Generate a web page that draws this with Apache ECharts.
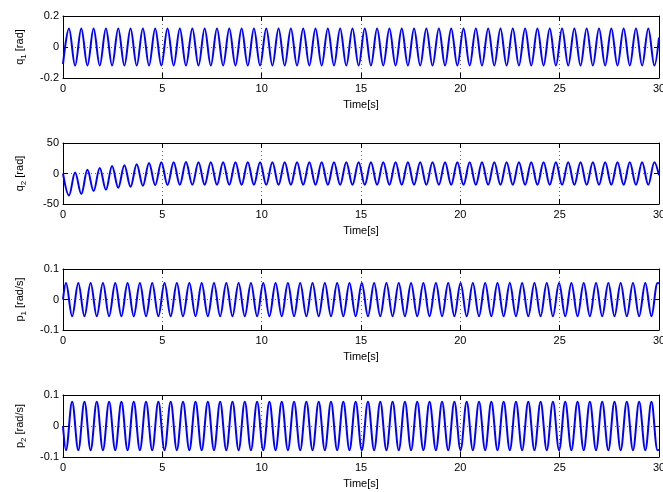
<!DOCTYPE html>
<html><head><meta charset="utf-8">
<script src="https://cdn.jsdelivr.net/npm/echarts@6/dist/echarts.min.js"></script>
<style>html,body{margin:0;padding:0;background:#fff}#c{width:663px;height:492px}</style>
</head><body><div id="c"></div>
<script>
// x tick labels (seconds)
const xTicks = [0, 5, 10, 15, 20, 25, 30];

// times of extrema read from the q-panels (plus start / end)
const qTime = [0,
  0.30, 0.61, 0.92, 1.23, 1.54, 1.85, 2.16, 2.47, 2.78, 3.09,
  3.40, 3.71, 4.02, 4.33, 4.64, 4.95, 5.26, 5.57, 5.88, 6.19,
  6.51, 6.82, 7.13, 7.44, 7.75, 8.06, 8.37, 8.68, 8.99, 9.30,
  9.61, 9.92, 10.23, 10.54, 10.85, 11.16, 11.47, 11.78, 12.09, 12.40,
  12.71, 13.02, 13.33, 13.64, 13.95, 14.26, 14.57, 14.88, 15.19, 15.50,
  15.81, 16.12, 16.43, 16.74, 17.05, 17.36, 17.67, 17.98, 18.29, 18.60,
  18.92, 19.23, 19.54, 19.85, 20.16, 20.47, 20.78, 21.09, 21.40, 21.71,
  22.02, 22.33, 22.64, 22.95, 23.26, 23.57, 23.88, 24.19, 24.50, 24.81,
  25.12, 25.43, 25.74, 26.05, 26.36, 26.67, 26.98, 27.29, 27.60, 27.91,
  28.22, 28.53, 28.84, 29.15, 29.46, 29.77,
  30];

// q1 [rad] values at qTime
const q1Val = [-0.11,
  0.12,-0.12,0.12,-0.12,0.12,-0.12,0.12,-0.12,0.12,-0.12,0.12,-0.12,
  0.12,-0.12,0.12,-0.12,0.12,-0.12,0.12,-0.12,0.12,-0.12,0.12,-0.12,
  0.12,-0.12,0.12,-0.12,0.12,-0.12,0.12,-0.12,0.12,-0.12,0.12,-0.12,
  0.12,-0.12,0.12,-0.12,0.12,-0.12,0.12,-0.12,0.12,-0.12,0.12,-0.12,
  0.12,-0.12,0.12,-0.12,0.12,-0.12,0.12,-0.12,0.12,-0.12,0.12,-0.12,
  0.12,-0.12,0.12,-0.12,0.12,-0.12,0.12,-0.12,0.12,-0.12,0.12,-0.12,
  0.12,-0.12,0.12,-0.12,0.12,-0.12,0.12,-0.12,0.12,-0.12,0.12,-0.12,
  0.12,-0.12,0.12,-0.12,0.12,-0.12,0.12,-0.12,0.12,-0.12,0.12,-0.12,
  0.06];

// q2 [rad] values at qTime
const q2Val = [0,
  -36, 1.6, -33.7, 6, -28.8, 9.2, -26.7, 12.5, -23.4, 13.6, -21.8, 15.2, -20.1, 17.4, -19.1, 18.5,
  -18.8, 18.6, -18.6, 18.7, -18.5, 18.5, -18.5, 18.5, -18.5, 18.5,
  -18.5, 18.5, -18.5, 18.5, -18.5, 18.5, -18.5, 18.5, -18.5, 18.5,
  -18.5, 18.5, -18.5, 18.5, -18.5, 18.5, -18.5, 18.5, -18.5, 18.5,
  -18.5, 18.5, -18.5, 18.5, -18.5, 18.5, -18.5, 18.5, -18.5, 18.5,
  -18.5, 18.5, -18.5, 18.5, -18.5, 18.5, -18.5, 18.5, -18.5, 18.5,
  -18.5, 18.5, -18.5, 18.5, -18.5, 18.5, -18.5, 18.5, -18.5, 18.5,
  -18.5, 18.5, -18.5, 18.5, -18.5, 18.5, -18.5, 18.5, -18.5, 18.5,
  -18.5, 18.5, -18.5, 18.5, -18.5, 18.5, -18.5, 18.5, -18.5, 18.5,
  -3];

// times of extrema read from the p-panels (plus start / end)
const pTime = [0,
  0.15, 0.46, 0.77, 1.08, 1.39, 1.70, 2.01, 2.32, 2.63, 2.94,
  3.25, 3.56, 3.87, 4.18, 4.49, 4.80, 5.11, 5.42, 5.73, 6.04,
  6.36, 6.67, 6.98, 7.29, 7.60, 7.91, 8.22, 8.53, 8.84, 9.15,
  9.46, 9.77, 10.08, 10.39, 10.70, 11.01, 11.32, 11.63, 11.94, 12.25,
  12.56, 12.87, 13.18, 13.49, 13.80, 14.11, 14.42, 14.73, 15.04, 15.35,
  15.66, 15.97, 16.28, 16.59, 16.90, 17.21, 17.52, 17.83, 18.14, 18.45,
  18.77, 19.08, 19.39, 19.70, 20.01, 20.32, 20.63, 20.94, 21.25, 21.56,
  21.87, 22.18, 22.49, 22.80, 23.11, 23.42, 23.73, 24.04, 24.35, 24.66,
  24.97, 25.28, 25.59, 25.90, 26.21, 26.52, 26.83, 27.14, 27.45, 27.76,
  28.07, 28.38, 28.69, 29.00, 29.31, 29.62, 29.93,
  30];

// p1 [rad/s] values at pTime
const p1Val = [0,
  0.054,-0.055,0.054,-0.055,0.054,-0.055,0.054,-0.055,0.054,-0.055,0.054,-0.055,
  0.054,-0.055,0.054,-0.055,0.054,-0.055,0.054,-0.055,0.054,-0.055,0.054,-0.055,
  0.054,-0.055,0.054,-0.055,0.054,-0.055,0.054,-0.055,0.054,-0.055,0.054,-0.055,
  0.054,-0.055,0.054,-0.055,0.054,-0.055,0.054,-0.055,0.054,-0.055,0.054,-0.055,
  0.054,-0.055,0.054,-0.055,0.054,-0.055,0.054,-0.055,0.054,-0.055,0.054,-0.055,
  0.054,-0.055,0.054,-0.055,0.054,-0.055,0.054,-0.055,0.054,-0.055,0.054,-0.055,
  0.054,-0.055,0.054,-0.055,0.054,-0.055,0.054,-0.055,0.054,-0.055,0.054,-0.055,
  0.054,-0.055,0.054,-0.055,0.054,-0.055,0.054,-0.055,0.054,-0.055,0.054,-0.055,
  0.054,
  0.053];

// p2 [rad/s] values at pTime
const p2Val = [0,
  -0.078,0.078,-0.078,0.078,-0.078,0.078,-0.078,0.078,-0.078,0.078,-0.078,0.078,
  -0.078,0.078,-0.078,0.078,-0.078,0.078,-0.078,0.078,-0.078,0.078,-0.078,0.078,
  -0.078,0.078,-0.078,0.078,-0.078,0.078,-0.078,0.078,-0.078,0.078,-0.078,0.078,
  -0.078,0.078,-0.078,0.078,-0.078,0.078,-0.078,0.078,-0.078,0.078,-0.078,0.078,
  -0.078,0.078,-0.078,0.078,-0.078,0.078,-0.078,0.078,-0.078,0.078,-0.078,0.078,
  -0.078,0.078,-0.078,0.078,-0.078,0.078,-0.078,0.078,-0.078,0.078,-0.078,0.078,
  -0.078,0.078,-0.078,0.078,-0.078,0.078,-0.078,0.078,-0.078,0.078,-0.078,0.078,
  -0.078,0.078,-0.078,0.078,-0.078,0.078,-0.078,0.078,-0.078,0.078,-0.078,0.078,
  -0.078,
  -0.077];

// y tick limits per panel
const yMin = [-0.2, -50, -0.1, -0.1];
const yMax = [0.2, 50, 0.1, 0.1];
const yStep = [0.2, 50, 0.1, 0.1];
const yLetter = ['q', 'q', 'p', 'p'];
const ySub = ['1', '2', '1', '2'];
const yUnit = [' [rad]', ' [rad]', ' [rad/s]', ' [rad/s]'];
const xName = 'Time[s]';

const panels = [
  {time: qTime, vals: q1Val},
  {time: qTime, vals: q2Val},
  {time: pTime, vals: p1Val},
  {time: pTime, vals: p2Val}
];

const FONT = '"Liberation Sans", Arial, Helvetica, sans-serif';
const tops = [16, 143, 269, 395];
const heights = [62, 61, 61, 62];
const grid = [], xAxis = [], yAxis = [], series = [];
const lineSt = {color: '#000', width: 1};
const gridSt = {type: [1, 3], color: '#666', width: 1};

panels.forEach((p, i) => {
  grid.push({left: 63, width: 596, top: tops[i], height: heights[i], containLabel: false, outerBoundsMode: 'none'});
  const xc = {type: 'value', gridIndex: i, min: xTicks[0], max: xTicks[xTicks.length - 1], interval: xTicks[1] - xTicks[0]};
  xAxis.push(Object.assign({}, xc, {
    position: 'bottom',
    axisLine: {onZero: false, lineStyle: lineSt},
    axisTick: {inside: true, length: 5, lineStyle: lineSt},
    axisLabel: {margin: 5, color: '#000', fontSize: 11, fontFamily: FONT, hideOverlap: false},
    splitLine: {show: true, lineStyle: gridSt},
    name: xName, nameLocation: 'middle', nameGap: 21,
    nameTextStyle: {color: '#000', fontSize: 11, fontFamily: FONT}
  }));
  xAxis.push(Object.assign({}, xc, {
    position: 'top',
    axisLine: {onZero: false, lineStyle: lineSt},
    axisTick: {inside: true, length: 5, lineStyle: lineSt},
    axisLabel: {show: false},
    splitLine: {show: false}
  }));
  const yc = {type: 'value', gridIndex: i, min: yMin[i], max: yMax[i], interval: yStep[i]};
  yAxis.push(Object.assign({}, yc, {
    position: 'left',
    axisLine: {onZero: false, lineStyle: lineSt},
    axisTick: {inside: true, length: 5, lineStyle: lineSt},
    axisLabel: {margin: 4, color: '#000', fontSize: 11, fontFamily: FONT},
    splitLine: {show: true, lineStyle: gridSt},
    name: '{b|' + yLetter[i] + '}{s|' + ySub[i] + '}{b|' + yUnit[i] + '}',
    nameLocation: 'middle', nameGap: 38, nameRotate: 90,
    nameTextStyle: {
      color: '#000', fontFamily: FONT,
      rich: {
        b: {fontSize: 11, fontFamily: FONT, color: '#000', lineHeight: 14, verticalAlign: 'bottom'},
        s: {fontSize: 8, fontFamily: FONT, color: '#000', lineHeight: 8, verticalAlign: 'bottom', padding: [0, 0, -3, 0]}
      }
    }
  }));
  yAxis.push(Object.assign({}, yc, {
    position: 'right',
    axisLine: {onZero: false, lineStyle: lineSt},
    axisTick: {inside: true, length: 5, lineStyle: lineSt},
    axisLabel: {show: false},
    splitLine: {show: false}
  }));
  series.push({
    type: 'line', xAxisIndex: 2 * i, yAxisIndex: 2 * i,
    data: p.time.map((t, k) => [t, p.vals[k]]),
    symbol: 'none', showSymbol: false, smooth: 0.36,
    lineStyle: {color: '#0000ff', width: 2}, clip: true
  });
});

const chart = echarts.init(document.getElementById('c'), null, {renderer: 'canvas'});
chart.setOption({animation: false, backgroundColor: '#fff', grid, xAxis, yAxis, series});
</script></body></html>
